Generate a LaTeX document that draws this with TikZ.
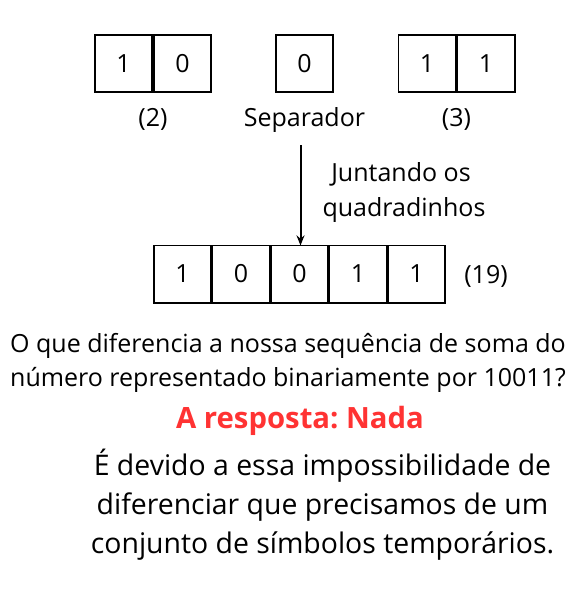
\documentclass[tikz,border=0pt]{standalone}
\usepackage{fontspec}
\setmainfont{Open Sans}
\frenchspacing
\usetikzlibrary{arrows.meta}
\definecolor{respred}{RGB}{255,51,51}

\begin{document}
\begin{tikzpicture}[x=1pt,y=-1pt,
  every node/.style={outer sep=0pt},
  bit/.style={draw, line width=1.8pt, minimum size=59pt-\pgflinewidth, inner sep=0pt, font=\fontsize{25}{30}\selectfont},
  lbl/.style={anchor=base, inner sep=0pt, font=\fontsize{25}{30}\selectfont},
  frase/.style={anchor=base, inner sep=0pt, font=\fontsize{25}{34}\selectfont},
  texto/.style={anchor=base, inner sep=0pt, font=\fontsize{28.4}{39}\selectfont}]
\useasboundingbox (0,0) rectangle (583,598);

% pedacos de cima
\node[bit] (a1) at (123.5,63.5) {1};
\node[bit] (a2) at (182.5,63.5) {0};
\node[bit] (s1) at (304.5,63.5) {0};
\node[bit] (b1) at (427,63.5) {1};
\node[bit] (b2) at (486,63.5) {1};

\node[lbl] (la) at (153,126) {(2)};
\node[lbl] (ls) at (304.5,126) {Separador};
\node[lbl] (lb) at (456.5,126) {(3)};

% juntando
\coordinate (topo) at (300.5,145);
\node[lbl] (j1) at (401,181) {Juntando os};
\node[lbl] (j2) at (404,216) {quadradinhos};

\node[bit] (c1) at (182.5,274) {1};
\node[bit] (c2) at (241,274) {0};
\node[bit] (c3) at (299.5,274) {0};
\node[bit] (c4) at (358,274) {1};
\node[bit] (c5) at (416.5,274) {1};
\node[lbl] (lc) at (486,283) {(19)};

\draw[line width=2pt, -{Stealth[length=10pt,width=8pt]}] (topo) -- (topo |- c3.north);

% texto de baixo
\node[frase] (q1) at (288,352) {O que diferencia a nossa sequência de soma do};
\node[frase] (q2) at (288,386) {número representado binariamente por 10011?};
\node[frase, text=respred, font=\fontsize{29.3}{32}\selectfont\bfseries] (r) at (300,428) {A resposta: Nada};
\node[texto] (p1) at (322.5,475) {É devido a essa impossibilidade de};
\node[texto] (p2) at (322.5,514) {diferenciar que precisamos de um};
\node[texto] (p3) at (322.5,553) {conjunto de símbolos temporários.};
\end{tikzpicture}
\end{document}
